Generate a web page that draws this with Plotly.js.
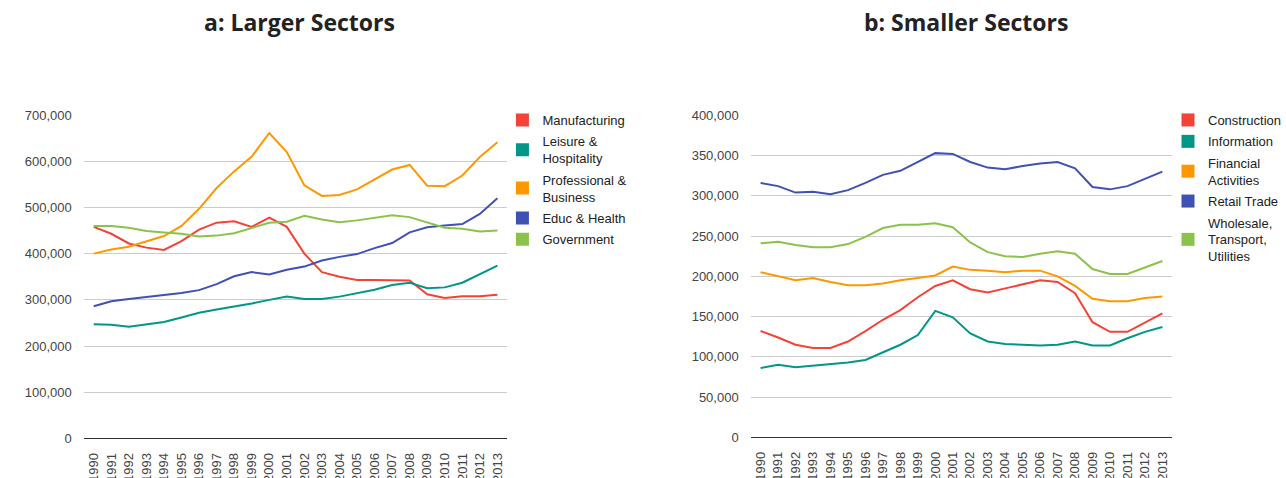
<!DOCTYPE html>
<html>
<head>
<meta charset="utf-8">
<script src="https://cdn.plot.ly/plotly-3.0.1.min.js"></script>
<style>html,body{margin:0;padding:0;background:#fff;}#chart{width:1286px;height:478px;}</style>
</head>
<body>
<div id="chart"></div>
<script>
const years = ['1990','1991','1992','1993','1994','1995','1996','1997','1998','1999','2000','2001','2002','2003','2004','2005','2006','2007','2008','2009','2010','2011','2012','2013'];

// Panel a: Larger Sectors (jobs)
const manufacturing = [458000,443000,422000,413000,408000,427000,452000,467000,470000,458000,478000,458000,400000,360000,350000,343000,343000,343000,342000,312000,304000,308000,308000,311000];
const leisureHospitality = [247000,246000,242000,247000,252000,262000,272000,279000,285000,292000,300000,307000,302000,302000,307000,314000,322000,332000,337000,325000,327000,337000,356000,374000];
const professionalBusiness = [400000,409000,415000,427000,438000,460000,497000,542000,578000,610000,661000,620000,548000,525000,527000,539000,561000,582000,592000,547000,546000,569000,609000,641000];
const educHealth = [286000,297000,302000,306000,310000,315000,321000,334000,351000,360000,355000,365000,372000,385000,393000,399000,412000,423000,446000,457000,461000,464000,486000,520000];
const government = [460000,460000,456000,449000,446000,443000,437000,439000,444000,456000,467000,469000,482000,474000,468000,472000,478000,483000,479000,468000,456000,454000,448000,450000];

// Panel b: Smaller Sectors (jobs)
const construction = [132000,124000,115000,111000,111000,119000,132000,146000,158000,174000,188000,195000,184000,180000,185000,190000,195000,193000,179000,143000,131000,131000,142000,154000];
const information = [86000,90000,87000,89000,91000,93000,96000,106000,115000,127000,157000,149000,129000,119000,116000,115000,114000,115000,119000,114000,114000,123000,131000,137000];
const financialActivities = [205000,200000,195000,198000,193000,189000,189000,191000,195000,198000,201000,212000,208000,207000,205000,207000,207000,200000,188000,172000,169000,169000,173000,175000];
const retailTrade = [316000,312000,304000,305000,302000,307000,316000,326000,331000,342000,353000,352000,342000,335000,333000,337000,340000,342000,334000,311000,308000,312000,321000,330000];
const wholesaleTransportUtilities = [241000,243000,239000,236000,236000,240000,249000,260000,264000,264000,266000,261000,242000,230000,225000,224000,228000,231000,228000,209000,203000,203000,211000,219000];

const namesA = ['Manufacturing','Leisure &<br>Hospitality','Professional &<br>Business','Educ & Health','Government'];
const namesB = ['Construction','Information','Financial<br>Activities','Retail Trade','Wholesale,<br>Transport,<br>Utilities'];
const colors = ['#F44336','#009688','#FF9800','#3F51B5','#8BC34A'];

const seriesA = [manufacturing, leisureHospitality, professionalBusiness, educHealth, government];
const seriesB = [construction, information, financialActivities, retailTrade, wholesaleTransportUtilities];

const traces = [];
function addPanel(series, names, xa, ya, leg, tag) {
  series.forEach((s, i) => {
    traces.push({x: years, y: s, type: 'scatter', mode: 'lines', xaxis: xa, yaxis: ya,
      line: {color: colors[i], width: 2}, showlegend: false, hoverinfo: 'x+y', name: names[i].replace(/<br>/g,' ')});
  });
  series.forEach((s, i) => {
    traces.push({x: [null], y: [null], type: 'scatter', mode: 'markers', xaxis: xa, yaxis: ya,
      marker: {color: colors[i], symbol: 'square', size: 13}, name: names[i], legend: leg,
      legendgroup: tag + i, showlegend: true});
  });
}
addPanel(seriesA, namesA, 'x', 'y', 'legend', 'a');
addPanel(seriesB, namesB, 'x2', 'y2', 'legend2', 'b');

const W = 1286, H = 478;
const tickFont = {family: 'Liberation Sans, Arial, sans-serif', size: 13, color: '#444'};
function xax(l, r) {
  return {domain: [l / W, r / W], type: 'category', range: [-0.57, 23.57], showgrid: false, zeroline: false,
    showline: false, ticks: '', tickangle: -90, tickfont: tickFont, ticklabelstandoff: 11, fixedrange: true};
}
function yax(top, bot, max, dt) {
  return {domain: [(H - bot) / H, (H - top) / H], range: [0, max], dtick: dt, tickformat: ',d',
    showgrid: true, gridcolor: '#cccccc', gridwidth: 1, zeroline: true, zerolinecolor: '#333', zerolinewidth: 1,
    showline: false, ticks: '', tickfont: tickFont, ticklabelstandoff: 11, fixedrange: true};
}
const legFont = {family: 'Liberation Sans, Arial, sans-serif', size: 13, color: '#222'};
const titleFont = {family: 'Open Sans, sans-serif', size: 23, color: '#222', weight: 'bold'};

const legBase = {xanchor: 'left', yanchor: 'top', font: legFont, bgcolor: 'rgba(0,0,0,0)', itemclick: false,
  traceorder: 'grouped', tracegroupgap: 1.5};
const layout = {
  width: W, height: H, margin: {l: 0, r: 0, t: 0, b: 0}, paper_bgcolor: '#fff', plot_bgcolor: '#fff',
  xaxis: xax(84, 509), yaxis: yax(115, 438.5, 700000, 100000),
  xaxis2: xax(753, 1176), yaxis2: Object.assign(yax(115.3, 437.3, 400000, 50000), {anchor: 'x2'}),
  legend: Object.assign({x: 504 / W, y: (H - 105) / H}, legBase),
  legend2: Object.assign({x: 1172 / W, y: (H - 105) / H}, legBase),
  annotations: [
    {text: 'a: Larger Sectors', x: 300 / W, y: (H - 22) / H, xref: 'paper', yref: 'paper', showarrow: false, font: titleFont, xanchor: 'center', yanchor: 'middle'},
    {text: 'b: Smaller Sectors', x: 969 / W, y: (H - 22) / H, xref: 'paper', yref: 'paper', showarrow: false, font: titleFont, xanchor: 'center', yanchor: 'middle'}
  ]
};
layout.xaxis2.anchor = 'y2';
layout.xaxis.anchor = 'y';

Plotly.newPlot('chart', traces, layout, {displayModeBar: false, staticPlot: true});
</script>
</body>
</html>
